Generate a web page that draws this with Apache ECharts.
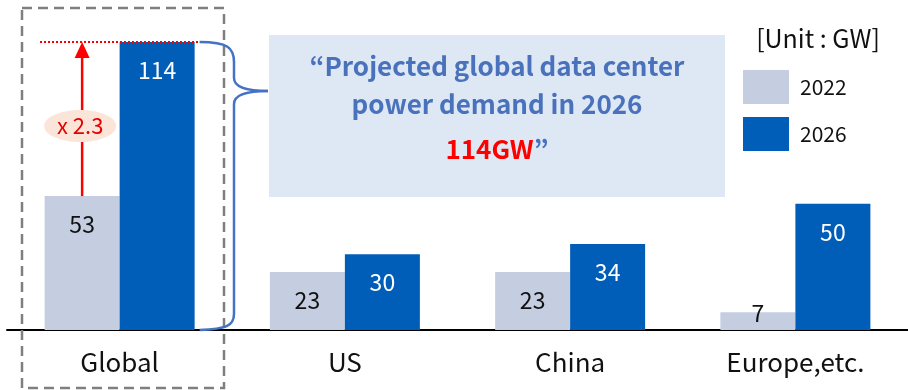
<!DOCTYPE html>
<html>
<head>
<meta charset="utf-8">
<script src="https://cdn.jsdelivr.net/npm/echarts@6/dist/echarts.min.js"></script>
<style>
html,body{margin:0;padding:0;background:#fff;}
#chart{width:908px;height:390px;}
</style>
</head>
<body>
<div id="chart"></div>
<script>
const categories = ['Global', 'US', 'China', 'Europe,etc.'];
const v2022 = [53, 23, 23, 7];
const v2026 = [114, 30, 34, 50];
const seriesNames = ['2022', '2026'];
const unitText = '[Unit : GW]';
const growthText = 'x 2.3';
const calloutLines = ['\u201CProjected global data center', 'power demand in 2026'];
const calloutValue = '114GW';

const FONT = "'Noto Sans CJK KR', 'Noto Sans', sans-serif";
const chart = echarts.init(document.getElementById('chart'), null, {renderer: 'canvas'});

// small bars: label sits at the bar's top edge
function withLabels(arr) {
  return arr.map(v => v < 10 ? {value: v, label: {position: 'top', distance: -12}} : v);
}

const option = {
  animation: false,
  backgroundColor: '#ffffff',
  grid: {left: 7, right: 0, top: 42, bottom: 60, containLabel: false},
  legend: {
    orient: 'vertical',
    left: 738, top: 65,
    itemWidth: 46, itemHeight: 34, itemGap: 13,
    icon: 'rect',
    textStyle: {fontFamily: FONT, fontSize: 21, color: '#111', padding: [0, 0, 0, 6]},
    data: seriesNames
  },
  xAxis: {
    type: 'category',
    data: categories,
    axisLine: {lineStyle: {color: '#000', width: 2}},
    axisTick: {show: false},
    axisLabel: {fontFamily: FONT, fontSize: 26, color: '#111', margin: 19}
  },
  yAxis: {
    type: 'value', min: 0, max: 114,
    show: false, splitLine: {show: false}
  },
  series: [
    {
      name: seriesNames[0], type: 'bar', data: withLabels(v2022),
      barWidth: 75, barGap: '0%',
      itemStyle: {color: '#c4cee0'},
      label: {show: true, position: 'insideTop', distance: 17, fontFamily: FONT, fontSize: 23, color: '#111'}
    },
    {
      name: seriesNames[1], type: 'bar', data: withLabels(v2026),
      barWidth: 75, barGap: '0%',
      itemStyle: {color: '#005eb8'},
      label: {show: true, position: 'insideTop', distance: 17, fontFamily: FONT, fontSize: 23, color: '#fff'}
    }
  ]
};
chart.setOption(option);

// annotation positions derived from the axes
const xc = chart.convertToPixel({xAxisIndex: 0}, categories[0]);
const yTop = chart.convertToPixel({yAxisIndex: 0}, v2026[0]);
const yLow = chart.convertToPixel({yAxisIndex: 0}, v2022[0]);
const yBase = chart.convertToPixel({yAxisIndex: 0}, 0);
const ax = xc - 37.5;
const bx = xc + 80;
const braceStyle = {fill: 'none', stroke: '#4472c4', lineWidth: 2.5};

chart.setOption({
  graphic: [
    // dashed highlight box
    {type: 'rect', z: 100, shape: {x: 22, y: 8, width: 202, height: 380},
     style: {fill: 'none', stroke: '#7f7f7f', lineWidth: 2.5, lineDash: [10, 6]}},
    // red dotted reference line
    {type: 'line', z: 100, shape: {x1: 40, y1: yTop, x2: bx, y2: yTop},
     style: {stroke: '#ff0000', lineWidth: 2, lineDash: [2, 2]}},
    // red arrow
    {type: 'line', z: 100, shape: {x1: ax, y1: yLow, x2: ax, y2: yTop + 12},
     style: {stroke: '#ff0000', lineWidth: 2.5}},
    {type: 'polygon', z: 100, shape: {points: [[ax, yTop], [ax - 7.5, yTop + 16], [ax + 7.5, yTop + 16]]},
     style: {fill: '#ff0000'}},
    // growth ellipse
    {type: 'ellipse', z: 101, shape: {cx: ax - 2, cy: 126, rx: 36, ry: 16},
     style: {fill: '#fbe5d9'}},
    {type: 'text', z: 102, x: ax - 2, y: 126,
     style: {text: growthText, fontFamily: FONT, fontSize: 22, fill: '#e60000', align: 'center', verticalAlign: 'middle'}},
    // brace
    {type: 'bezierCurve', z: 100, shape: {x1: bx, y1: yTop, cpx1: 228, cpy1: yTop, cpx2: 234, cpy2: 48, x2: 234, y2: 62}, style: braceStyle},
    {type: 'line', z: 100, shape: {x1: 234, y1: 62, x2: 234, y2: 78}, style: braceStyle},
    {type: 'bezierCurve', z: 100, shape: {x1: 234, y1: 78, cpx1: 234, cpy1: 88, cpx2: 250, cpy2: 91, x2: 268, y2: 91}, style: braceStyle},
    {type: 'bezierCurve', z: 100, shape: {x1: 268, y1: 91, cpx1: 250, cpy1: 91, cpx2: 234, cpy2: 94, x2: 234, y2: 104}, style: braceStyle},
    {type: 'line', z: 100, shape: {x1: 234, y1: 104, x2: 234, y2: 314}, style: braceStyle},
    {type: 'bezierCurve', z: 100, shape: {x1: 234, y1: 314, cpx1: 234, cpy1: 326, cpx2: 226, cpy2: yBase - 1, x2: bx, y2: yBase}, style: braceStyle},
    // callout box
    {type: 'rect', z: 90, shape: {x: 269, y: 35, width: 456, height: 162},
     style: {fill: '#dde8f4'}},
    {type: 'text', z: 95, x: 497, y: 66,
     style: {text: calloutLines[0], fontFamily: FONT, fontWeight: 'bold', fontSize: 26, fill: '#4a72bc', align: 'center', verticalAlign: 'middle'}},
    {type: 'text', z: 95, x: 497, y: 104,
     style: {text: calloutLines[1], fontFamily: FONT, fontWeight: 'bold', fontSize: 26, fill: '#4a72bc', align: 'center', verticalAlign: 'middle'}},
    {type: 'text', z: 95, x: 497, y: 149,
     style: {text: '{r|' + calloutValue + '}{b|\u201D}',
       align: 'center', verticalAlign: 'middle',
       rich: {
         r: {fontFamily: FONT, fontWeight: 'bold', fontSize: 26, fill: '#ff0000', color: '#ff0000'},
         b: {fontFamily: FONT, fontWeight: 'bold', fontSize: 26, fill: '#4a72bc', color: '#4a72bc'}
       }}},
    // unit text
    {type: 'text', z: 95, x: 818, y: 38,
     style: {text: unitText, fontFamily: FONT, fontSize: 25, fill: '#111', align: 'center', verticalAlign: 'middle'}}
  ]
});
</script>
</body>
</html>
